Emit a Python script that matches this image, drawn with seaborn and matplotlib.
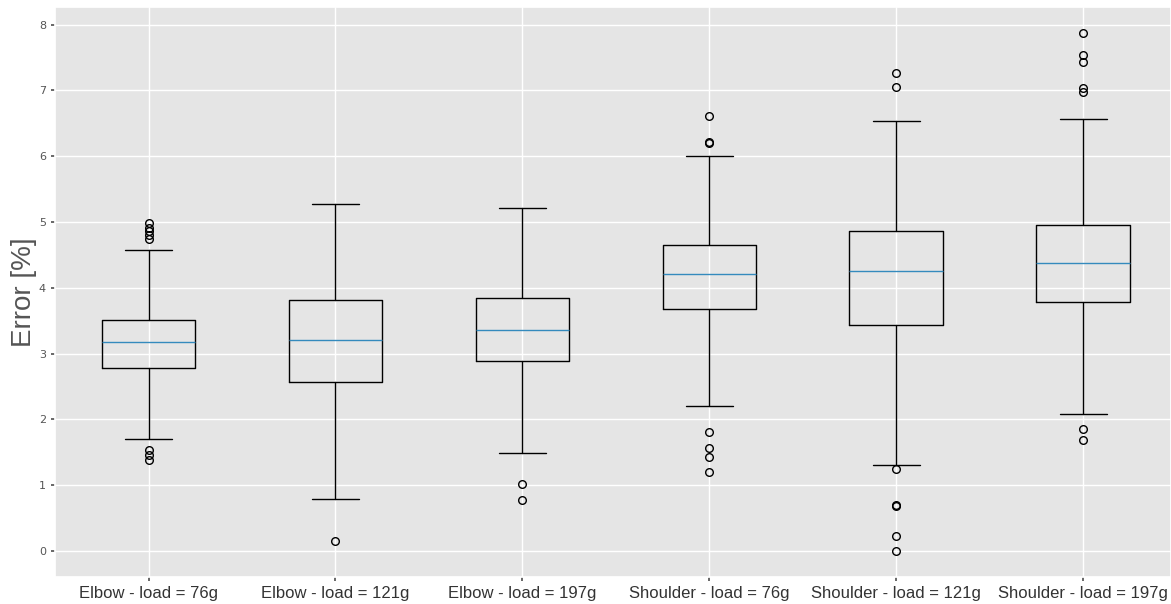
"""
Boxplot of joint angle error per joint / load condition.
"""

import matplotlib
matplotlib.use("Agg")
import matplotlib.pyplot as plt
import seaborn as sns

# ── data ──────────────────────────────────────────────
labels = [
    "Elbow - load = 76g", "Elbow - load = 121g", "Elbow - load = 197g",
    "Shoulder - load = 76g", "Shoulder - load = 121g", "Shoulder - load = 197g",
]
q1     = [2.78, 2.57, 2.89, 3.67, 3.43, 3.78]
median = [3.17, 3.21, 3.36, 4.21, 4.25, 4.37]
q3     = [3.51, 3.81, 3.84, 4.65, 4.86, 4.95]
whislo = [1.70, 0.79, 1.49, 2.21, 1.31, 2.08]
whishi = [4.58, 5.28, 5.21, 6.00, 6.54, 6.56]
fliers = [
    [4.99, 4.91, 4.86, 4.81, 4.74, 1.54, 1.46, 1.38],
    [0.15],
    [1.02, 0.78],
    [6.61, 6.22, 6.20, 1.80, 1.57, 1.42, 1.20],
    [7.26, 7.06, 1.25, 0.70, 0.68, 0.23, 0.00],
    [7.88, 7.54, 7.43, 7.04, 6.98, 1.86, 1.69],
]

stats = [
    {"label": lab, "q1": a, "med": m, "q3": b, "whislo": lo, "whishi": hi, "fliers": fl}
    for lab, a, m, b, lo, hi, fl in zip(labels, q1, median, q3, whislo, whishi, fliers)
]

# ── style: ggplot-like grey panel ─────────────────────
sns.set_theme(style="darkgrid", rc={
    "axes.facecolor": "#E5E5E5",
    "grid.color": "white",
    "grid.linewidth": 1.0,
    "xtick.bottom": True,
    "ytick.left": True,
    "xtick.major.size": 3,
    "ytick.major.size": 3,
    "xtick.color": "#555555",
    "ytick.color": "#555555",
})
plt.rcParams["font.family"] = ["DejaVu Sans"]

fig = plt.figure(figsize=(11.71, 6.04), dpi=100)
ax = fig.add_axes([0.047, 0.045, 0.953, 0.944])

ax.bxp(
    stats, widths=0.5,
    boxprops={"color": "black", "linewidth": 1},
    whiskerprops={"color": "black", "linewidth": 1},
    capprops={"color": "black", "linewidth": 1},
    medianprops={"color": "#348ABD", "linewidth": 1},
    flierprops={"marker": "o", "markerfacecolor": "none",
                "markeredgecolor": "black", "markersize": 5.5,
                "markeredgewidth": 1},
)

ax.set_xlim(0.5, 6.47)
ax.set_xticklabels(labels, fontsize=12, family="Liberation Sans", color="#333333")
ax.tick_params(axis="y", labelsize=8)
ax.set_ylabel("Error [%]", fontsize=20, family="Liberation Sans",
              color="#555555", labelpad=1.5)
ax.grid(True)

plt.savefig("out.png", dpi=100)
plt.close()
